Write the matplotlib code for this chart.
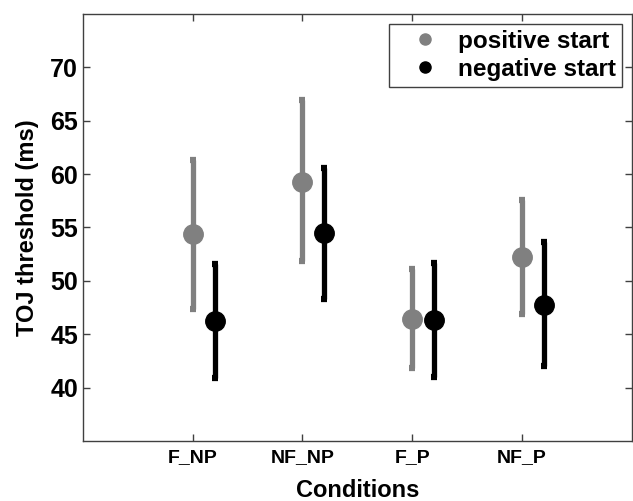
## TOJ threshold per condition, positive vs negative start (MATLAB style errorbar plot)

import numpy as np
import matplotlib
matplotlib.use('Agg')
import matplotlib.pyplot as plt
from matplotlib.lines import Line2D

plt.rcParams['font.family'] = ['Liberation Sans', 'DejaVu Sans']

## Data
conditions = ['F_NP', 'NF_NP', 'F_P', 'NF_P']

pos_mean  = [54.4, 59.3, 46.4, 52.2]
pos_low   = [47.4, 51.9, 41.8, 46.9]
pos_high  = [61.3, 66.9, 51.1, 57.6]

neg_mean  = [46.2, 54.5, 46.3, 47.7]
neg_low   = [40.9, 48.3, 41.0, 42.0]
neg_high  = [51.6, 60.6, 51.7, 53.6]

x = np.arange(1, len(conditions) + 1)
offset = 0.2
grey = '#808080'

fig = plt.figure(figsize=(6.33, 5.01), dpi=100)
ax = fig.add_axes([0.131, 0.12, 0.867, 0.852])

def draw(xpos, mean, low, high, col):
    mean = np.array(mean)
    err = np.vstack((mean - np.array(low), np.array(high) - mean))
    ax.errorbar(xpos, mean, yerr=err, fmt='o', color=col, ecolor=col,
                elinewidth=3.8, markersize=14, capsize=2.2, capthick=4.5,
                zorder=3)

draw(x, pos_mean, pos_low, pos_high, grey)
draw(x + offset, neg_mean, neg_low, neg_high, 'black')

ax.set_xlim(0, 5)
ax.set_ylim(35, 75)
ax.set_xticks(x)
ax.set_xticklabels(conditions, fontsize=14, fontweight='bold')
ax.set_yticks(np.arange(40, 71, 5))
ax.tick_params(axis='y', labelsize=18)
for lab in ax.get_yticklabels():
    lab.set_fontweight('bold')
ax.tick_params(direction='in', top=True, right=True, length=5,
               color='#404040', width=1)
ax.tick_params(axis='x', pad=6)
for sp in ax.spines.values():
    sp.set_color('#404040')
    sp.set_linewidth(1.0)

ax.set_xlabel('Conditions', fontsize=17, fontweight='bold', labelpad=9)
ax.set_ylabel('TOJ threshold (ms)', fontsize=17, fontweight='bold', labelpad=8)

handles = [Line2D([], [], ls='none', marker='o', color=grey, markersize=8),
           Line2D([], [], ls='none', marker='o', color='black', markersize=8)]
leg = ax.legend(handles, ['positive start', 'negative start'], loc='upper right',
                bbox_to_anchor=(1.0, 1.0), borderaxespad=0.4, fancybox=False,
                framealpha=1, edgecolor='#404040',
                prop={'size': 17.5, 'weight': 'bold'},
                handletextpad=0.15, borderpad=0.25, labelspacing=0.2,
                handlelength=2.45)
leg.get_frame().set_linewidth(1.0)

fig.savefig('out.png', dpi=100)
